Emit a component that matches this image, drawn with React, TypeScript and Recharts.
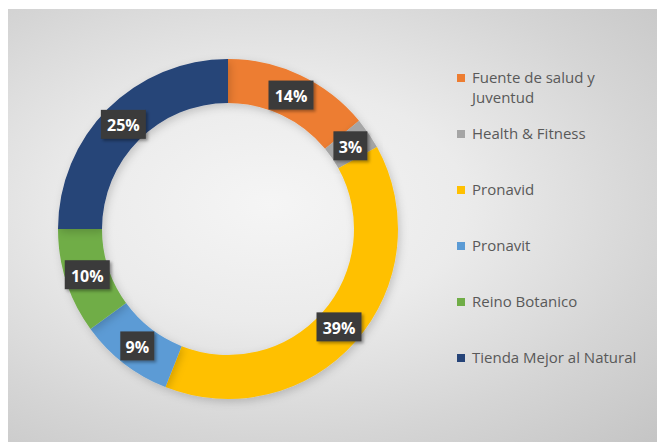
import React from 'react';
import { PieChart, Pie, Cell } from 'recharts';

const categories = [
  'Fuente de salud y Juventud',
  'Health & Fitness',
  'Pronavid',
  'Pronavit',
  'Reino Botanico',
  'Tienda Mejor al Natural'
];
const shares = [14, 3, 39, 9, 10, 25];
const colors = ['#ED7D31', '#A5A5A5', '#FFC000', '#5B9BD5', '#70AD47', '#264478'];

const chartData = categories.map((name, i) => ({ name, value: shares[i] }));

const RADIAN = Math.PI / 180;

// dark tag in the middle of the ring, like Excel's callout labels
const renderTag = (props: any) => {
  const { cx, cy, midAngle, innerRadius, outerRadius, value } = props;
  const r = (innerRadius + outerRadius) / 2;
  const x = cx + r * Math.cos(-midAngle * RADIAN);
  const y = cy + r * Math.sin(-midAngle * RADIAN);
  const text = `${value}%`;
  const w = text.length * 11 + 12;
  const h = 29;
  return (
    <g>
      <rect
        x={x - w / 2}
        y={y - h / 2}
        width={w}
        height={h}
        fill="#3b3b3b"
        filter="url(#tagShadow)"
      />
      <text
        x={x}
        y={y + 1}
        fill="#ffffff"
        textAnchor="middle"
        dominantBaseline="central"
        fontSize={16}
        fontWeight={700}
        fontFamily="'Open Sans', 'DejaVu Sans', sans-serif"
      >
        {text}
      </text>
    </g>
  );
};

const LegendBox = () => (
  <div
    style={{
      position: 'absolute',
      left: 449,
      top: 58,
      width: 200,
      fontFamily: "'Open Sans', 'DejaVu Sans', sans-serif",
      fontSize: 15,
      color: '#595959'
    }}
  >
    {chartData.map((entry, i) => (
      <div key={entry.name} style={{ display: 'flex', alignItems: 'flex-start', height: 56 }}>
        <span
          style={{
            display: 'inline-block',
            width: 8,
            height: 8,
            marginTop: 7,
            marginRight: 7,
            background: colors[i],
            flexShrink: 0
          }}
        />
        <span style={{ lineHeight: '20px', width: 178 }}>{entry.name}</span>
      </div>
    ))}
  </div>
);

export default function App() {
  return (
    <div
      style={{
        position: 'relative',
        width: 657,
        height: 433,
        marginTop: 1,
        background: 'radial-gradient(ellipse at 40% 45%, #f5f5f5 0%, #ebebeb 35%, #d5d5d5 70%, #c4c4c4 100%)'
      }}
    >
      <PieChart width={657} height={433}>
        <defs>
          <filter id="tagShadow" x="-20%" y="-20%" width="150%" height="150%">
            <feDropShadow dx="2" dy="2" stdDeviation="1.5" floodColor="#000" floodOpacity="0.35" />
          </filter>
          <filter id="ringShadow" x="-10%" y="-10%" width="120%" height="120%">
            <feDropShadow dx="2" dy="3" stdDeviation="4" floodColor="#000" floodOpacity="0.18" />
          </filter>
        </defs>
        <Pie
          data={chartData}
          dataKey="value"
          nameKey="name"
          cx={215}
          cy={215}
          innerRadius={126}
          outerRadius={170}
          startAngle={90}
          endAngle={-270}
          stroke="none"
          label={renderTag}
          labelLine={false}
          isAnimationActive={false}
        >
          {chartData.map((entry, i) => (
            <Cell key={entry.name} fill={colors[i]} filter="url(#ringShadow)" />
          ))}
        </Pie>
      </PieChart>
      <LegendBox />
    </div>
  );
}
